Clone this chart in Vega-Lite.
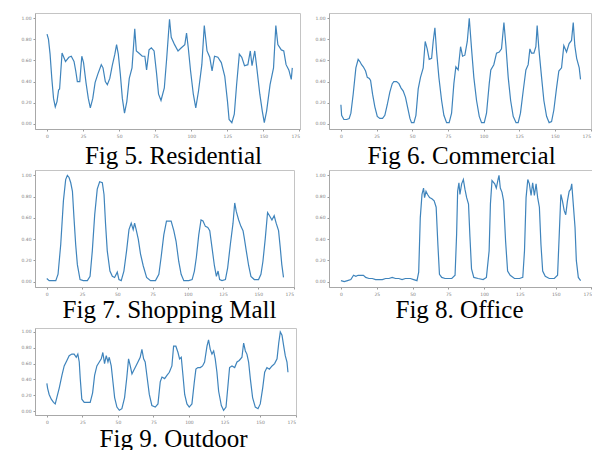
{
  "$schema": "https://vega.github.io/schema/vega-lite/v6.json",
  "autosize": {"type": "pad"},
  "padding": {"left": 20, "top": 12, "right": 0, "bottom": 0},
  "background": "white",
  "config": {
    "view": {"stroke": "#c4c4c4", "strokeWidth": 1},
    "axis": {"grid": false, "labelFontSize": 4.5, "labelColor": "#808080", "labelFont": "DejaVu Sans", "tickColor": "#9a9a9a", "tickSize": 2, "labelPadding": 2, "domainColor": "#a8a8a8", "titleFont": "Liberation Serif", "titleFontSize": 25, "titleFontWeight": "normal", "titleColor": "#000000", "titleAlign": "center", "titleBaseline": "alphabetic"},
    "line": {"color": "#3f84bc", "strokeWidth": 1.2}
  },
  "datasets": {
    "res": [
      {"t":0,"v":0.85},{"t":1,"v":0.80},{"t":2.1,"v":0.66},{"t":3.3,"v":0.43},{"t":4.5,"v":0.24},{"t":5.7,"v":0.16},{"t":6.9,"v":0.21},{"t":8.0,"v":0.32},{"t":8.7,"v":0.33},{"t":10.4,"v":0.67},{"t":11.6,"v":0.63},{"t":12.8,"v":0.59},{"t":15.1,"v":0.63},{"t":16.8,"v":0.64},{"t":18.7,"v":0.59},{"t":19.9,"v":0.50},{"t":21.0,"v":0.40},{"t":22.7,"v":0.40},{"t":24.1,"v":0.64},{"t":25.3,"v":0.58},{"t":27.0,"v":0.39},{"t":28.6,"v":0.24},{"t":30.0,"v":0.15},{"t":31.7,"v":0.24},{"t":33.3,"v":0.39},{"t":35.2,"v":0.47},{"t":37.6,"v":0.56},{"t":38.8,"v":0.53},{"t":40.4,"v":0.40},{"t":41.8,"v":0.37},{"t":43.5,"v":0.43},{"t":45.2,"v":0.55},{"t":47.0,"v":0.66},{"t":48.2,"v":0.75},{"t":49.4,"v":0.66},{"t":50.8,"v":0.47},{"t":52.2,"v":0.24},{"t":53.7,"v":0.10},{"t":55.3,"v":0.21},{"t":57.0,"v":0.43},{"t":58.9,"v":0.53},{"t":60.8,"v":0.90},{"t":61.9,"v":0.69},{"t":63.6,"v":0.67},{"t":66.0,"v":0.64},{"t":67.8,"v":0.64},{"t":69.0,"v":0.51},{"t":70.7,"v":0.70},{"t":72.3,"v":0.72},{"t":74.2,"v":0.69},{"t":75.9,"v":0.48},{"t":77.3,"v":0.28},{"t":79.0,"v":0.22},{"t":81.3,"v":0.34},{"t":83.0,"v":0.63},{"t":84.9,"v":0.99},{"t":86.1,"v":0.82},{"t":88.4,"v":0.75},{"t":90.8,"v":0.69},{"t":93.1,"v":0.72},{"t":95.5,"v":0.75},{"t":96.7,"v":0.86},{"t":97.9,"v":0.72},{"t":99.5,"v":0.50},{"t":101.4,"v":0.28},{"t":103.1,"v":0.15},{"t":105.0,"v":0.31},{"t":107.3,"v":0.56},{"t":109.0,"v":0.93},{"t":110.9,"v":0.69},{"t":112.8,"v":0.63},{"t":114.4,"v":0.50},{"t":116.1,"v":0.64},{"t":118.4,"v":0.63},{"t":120.8,"v":0.58},{"t":123.2,"v":0.45},{"t":125.1,"v":0.21},{"t":126.2,"v":0.04},{"t":128.1,"v":0.01},{"t":129.8,"v":0.09},{"t":131.4,"v":0.37},{"t":133.3,"v":0.66},{"t":135.0,"v":0.63},{"t":136.9,"v":0.55},{"t":139.2,"v":0.56},{"t":140.9,"v":0.69},{"t":142.1,"v":0.55},{"t":144.0,"v":0.69},{"t":145.4,"v":0.53},{"t":147.5,"v":0.28},{"t":149.2,"v":0.12},{"t":150.6,"v":0.01},{"t":152.2,"v":0.12},{"t":154.6,"v":0.37},{"t":157.0,"v":0.53},{"t":158.6,"v":0.93},{"t":160.0,"v":0.75},{"t":162.4,"v":0.70},{"t":164.1,"v":0.69},{"t":165.7,"v":0.56},{"t":167.6,"v":0.51},{"t":169.3,"v":0.42},{"t":170.0,"v":0.53}
    ],
    "com": [
      {"t":0,"v":0.18},{"t":0.5,"v":0.08},{"t":2.1,"v":0.04},{"t":4.0,"v":0.04},{"t":5.8,"v":0.05},{"t":7.0,"v":0.10},{"t":8.6,"v":0.28},{"t":10.5,"v":0.53},{"t":12.1,"v":0.61},{"t":13.3,"v":0.59},{"t":14.5,"v":0.56},{"t":15.7,"v":0.54},{"t":17.3,"v":0.50},{"t":18.5,"v":0.44},{"t":19.9,"v":0.43},{"t":20.8,"v":0.41},{"t":22.2,"v":0.28},{"t":23.8,"v":0.16},{"t":25.5,"v":0.07},{"t":27.3,"v":0.05},{"t":29.2,"v":0.05},{"t":30.8,"v":0.08},{"t":32.5,"v":0.18},{"t":34.3,"v":0.30},{"t":36.0,"v":0.38},{"t":37.1,"v":0.40},{"t":39.0,"v":0.40},{"t":40.7,"v":0.38},{"t":42.1,"v":0.34},{"t":43.7,"v":0.31},{"t":45.3,"v":0.25},{"t":46.7,"v":0.16},{"t":48.4,"v":0.05},{"t":49.5,"v":0.01},{"t":51.2,"v":0.01},{"t":52.6,"v":0.08},{"t":54.2,"v":0.33},{"t":55.8,"v":0.44},{"t":57.7,"v":0.53},{"t":59.1,"v":0.78},{"t":60.5,"v":0.71},{"t":61.9,"v":0.61},{"t":63.6,"v":0.62},{"t":64.7,"v":0.78},{"t":65.9,"v":0.91},{"t":67.1,"v":0.68},{"t":68.7,"v":0.44},{"t":70.6,"v":0.22},{"t":72.2,"v":0.08},{"t":74.1,"v":0.01},{"t":75.9,"v":0.01},{"t":77.6,"v":0.10},{"t":79.2,"v":0.38},{"t":80.6,"v":0.54},{"t":82.2,"v":0.51},{"t":83.9,"v":0.73},{"t":85.3,"v":0.64},{"t":86.9,"v":0.65},{"t":88.6,"v":0.78},{"t":90.0,"v":1.0},{"t":91.6,"v":0.71},{"t":93.2,"v":0.44},{"t":95.1,"v":0.22},{"t":97.0,"v":0.07},{"t":98.6,"v":0.01},{"t":100.5,"v":0.01},{"t":102.1,"v":0.10},{"t":104.0,"v":0.38},{"t":105.1,"v":0.51},{"t":107.2,"v":0.56},{"t":109.1,"v":0.67},{"t":111.0,"v":0.68},{"t":112.6,"v":0.71},{"t":114.3,"v":0.96},{"t":115.7,"v":0.74},{"t":117.3,"v":0.44},{"t":119.0,"v":0.22},{"t":120.8,"v":0.07},{"t":122.8,"v":0.01},{"t":124.3,"v":0.01},{"t":125.9,"v":0.10},{"t":127.8,"v":0.31},{"t":129.7,"v":0.51},{"t":131.3,"v":0.56},{"t":132.5,"v":0.71},{"t":133.6,"v":0.67},{"t":135.3,"v":0.67},{"t":136.7,"v":0.73},{"t":137.6,"v":0.93},{"t":138.8,"v":0.71},{"t":140.7,"v":0.44},{"t":142.3,"v":0.22},{"t":144.2,"v":0.07},{"t":146.0,"v":0.01},{"t":147.7,"v":0.02},{"t":149.3,"v":0.13},{"t":151.2,"v":0.34},{"t":152.8,"v":0.50},{"t":154.7,"v":0.53},{"t":156.3,"v":0.74},{"t":158.2,"v":0.68},{"t":160.0,"v":0.76},{"t":161.7,"v":0.79},{"t":162.9,"v":0.96},{"t":164.0,"v":0.74},{"t":165.3,"v":0.62},{"t":167.1,"v":0.53},{"t":168.0,"v":0.42}
    ],
    "mall": [
      {"t":0,"v":0.03},{"t":1.7,"v":0.01},{"t":4.0,"v":0.01},{"t":6.4,"v":0.01},{"t":8.0,"v":0.07},{"t":9.9,"v":0.35},{"t":11.8,"v":0.76},{"t":13.4,"v":0.96},{"t":14.6,"v":1.0},{"t":15.8,"v":0.98},{"t":17.0,"v":0.93},{"t":18.2,"v":0.85},{"t":19.3,"v":0.60},{"t":20.5,"v":0.35},{"t":21.7,"v":0.16},{"t":23.6,"v":0.02},{"t":25.9,"v":0.01},{"t":28.8,"v":0.01},{"t":30.7,"v":0.05},{"t":32.3,"v":0.29},{"t":34.0,"v":0.63},{"t":35.8,"v":0.87},{"t":37.5,"v":0.94},{"t":39.4,"v":0.93},{"t":40.6,"v":0.82},{"t":41.7,"v":0.54},{"t":42.9,"v":0.29},{"t":44.8,"v":0.10},{"t":46.5,"v":0.05},{"t":48.1,"v":0.04},{"t":50.0,"v":0.09},{"t":51.2,"v":0.02},{"t":52.8,"v":0.01},{"t":54.7,"v":0.10},{"t":56.6,"v":0.29},{"t":58.3,"v":0.49},{"t":59.9,"v":0.55},{"t":61.3,"v":0.49},{"t":62.3,"v":0.55},{"t":63.4,"v":0.49},{"t":64.9,"v":0.40},{"t":66.5,"v":0.26},{"t":68.4,"v":0.15},{"t":70.8,"v":0.04},{"t":73.6,"v":0.01},{"t":77.1,"v":0.01},{"t":79.5,"v":0.07},{"t":81.1,"v":0.23},{"t":83.0,"v":0.44},{"t":84.9,"v":0.57},{"t":86.6,"v":0.57},{"t":88.2,"v":0.57},{"t":90.1,"v":0.48},{"t":91.7,"v":0.38},{"t":93.6,"v":0.19},{"t":95.3,"v":0.07},{"t":97.2,"v":0.01},{"t":100.7,"v":0.01},{"t":103.1,"v":0.02},{"t":104.7,"v":0.10},{"t":106.1,"v":0.23},{"t":107.8,"v":0.44},{"t":109.4,"v":0.58},{"t":110.8,"v":0.57},{"t":112.5,"v":0.52},{"t":114.2,"v":0.51},{"t":115.6,"v":0.48},{"t":117.2,"v":0.32},{"t":118.9,"v":0.15},{"t":120.3,"v":0.05},{"t":121.5,"v":0.10},{"t":122.6,"v":0.02},{"t":124.3,"v":0.01},{"t":126.7,"v":0.02},{"t":128.3,"v":0.13},{"t":130.2,"v":0.35},{"t":132.1,"v":0.55},{"t":133.3,"v":0.74},{"t":134.4,"v":0.66},{"t":136.1,"v":0.58},{"t":137.7,"v":0.52},{"t":139.2,"v":0.48},{"t":140.1,"v":0.41},{"t":141.5,"v":0.29},{"t":143.2,"v":0.15},{"t":144.8,"v":0.05},{"t":147.2,"v":0.02},{"t":150.2,"v":0.02},{"t":151.9,"v":0.07},{"t":153.3,"v":0.19},{"t":155.0,"v":0.41},{"t":156.6,"v":0.65},{"t":158.0,"v":0.62},{"t":159.7,"v":0.58},{"t":161.3,"v":0.62},{"t":162.7,"v":0.55},{"t":164.4,"v":0.48},{"t":165.6,"v":0.32},{"t":166.7,"v":0.16},{"t":167.9,"v":0.04}
    ],
    "office": [
      {"t":0,"v":0.01},{"t":2.3,"v":0.0},{"t":4.6,"v":0.01},{"t":6.9,"v":0.02},{"t":8.8,"v":0.06},{"t":10.4,"v":0.05},{"t":12.0,"v":0.06},{"t":13.9,"v":0.06},{"t":15.7,"v":0.06},{"t":17.3,"v":0.04},{"t":19.6,"v":0.03},{"t":21.9,"v":0.03},{"t":24.2,"v":0.02},{"t":26.6,"v":0.02},{"t":28.9,"v":0.02},{"t":31.2,"v":0.03},{"t":33.5,"v":0.03},{"t":35.8,"v":0.04},{"t":38.1,"v":0.03},{"t":40.4,"v":0.03},{"t":42.7,"v":0.02},{"t":45.0,"v":0.03},{"t":48.5,"v":0.03},{"t":50.8,"v":0.02},{"t":53.1,"v":0.01},{"t":54.3,"v":0.09},{"t":55.4,"v":0.60},{"t":56.6,"v":0.82},{"t":57.7,"v":0.88},{"t":58.4,"v":0.79},{"t":59.4,"v":0.85},{"t":60.5,"v":0.82},{"t":61.9,"v":0.79},{"t":63.5,"v":0.78},{"t":65.1,"v":0.76},{"t":66.5,"v":0.70},{"t":67.7,"v":0.35},{"t":68.8,"v":0.07},{"t":70.4,"v":0.04},{"t":72.7,"v":0.03},{"t":75.1,"v":0.03},{"t":77.4,"v":0.03},{"t":79.7,"v":0.06},{"t":80.8,"v":0.45},{"t":81.5,"v":0.85},{"t":82.4,"v":0.93},{"t":83.1,"v":0.82},{"t":84.3,"v":0.92},{"t":85.5,"v":0.96},{"t":86.6,"v":0.87},{"t":87.8,"v":0.79},{"t":89.1,"v":0.73},{"t":90.1,"v":0.42},{"t":91.2,"v":0.12},{"t":92.8,"v":0.04},{"t":95.8,"v":0.03},{"t":99.3,"v":0.02},{"t":101.6,"v":0.04},{"t":103.5,"v":0.29},{"t":104.4,"v":0.73},{"t":105.5,"v":0.95},{"t":107.4,"v":0.92},{"t":108.5,"v":0.88},{"t":109.7,"v":0.96},{"t":110.4,"v":1.0},{"t":111.3,"v":0.88},{"t":112.5,"v":0.84},{"t":113.6,"v":0.76},{"t":115.0,"v":0.38},{"t":116.4,"v":0.10},{"t":118.2,"v":0.06},{"t":121.2,"v":0.03},{"t":124.7,"v":0.03},{"t":127.0,"v":0.04},{"t":128.2,"v":0.29},{"t":129.3,"v":0.79},{"t":130.5,"v":0.96},{"t":131.6,"v":0.92},{"t":132.8,"v":0.81},{"t":133.9,"v":0.93},{"t":135.1,"v":0.81},{"t":136.3,"v":0.92},{"t":137.4,"v":0.79},{"t":138.6,"v":0.70},{"t":139.7,"v":0.35},{"t":140.9,"v":0.10},{"t":142.7,"v":0.05},{"t":145.5,"v":0.03},{"t":149.0,"v":0.03},{"t":151.3,"v":0.06},{"t":152.4,"v":0.42},{"t":153.6,"v":0.82},{"t":154.7,"v":0.76},{"t":155.9,"v":0.67},{"t":157.0,"v":0.63},{"t":158.2,"v":0.76},{"t":159.4,"v":0.85},{"t":160.5,"v":0.87},{"t":161.2,"v":0.92},{"t":162.1,"v":0.76},{"t":163.5,"v":0.51},{"t":164.4,"v":0.20},{"t":165.8,"v":0.04},{"t":167.4,"v":0.01}
    ],
    "out": [
      {"t":0,"v":0.35},{"t":0.5,"v":0.29},{"t":1.6,"v":0.21},{"t":3.1,"v":0.15},{"t":4.7,"v":0.11},{"t":5.9,"v":0.09},{"t":7.0,"v":0.17},{"t":8.7,"v":0.29},{"t":10.6,"v":0.45},{"t":12.2,"v":0.57},{"t":14.1,"v":0.64},{"t":15.7,"v":0.70},{"t":17.6,"v":0.72},{"t":19.2,"v":0.72},{"t":20.7,"v":0.68},{"t":21.8,"v":0.72},{"t":22.8,"v":0.62},{"t":23.5,"v":0.41},{"t":24.6,"v":0.15},{"t":26.3,"v":0.11},{"t":28.2,"v":0.11},{"t":30.5,"v":0.11},{"t":32.2,"v":0.23},{"t":33.6,"v":0.45},{"t":35.2,"v":0.57},{"t":36.9,"v":0.62},{"t":38.3,"v":0.66},{"t":39.4,"v":0.74},{"t":40.6,"v":0.60},{"t":41.8,"v":0.70},{"t":43.0,"v":0.62},{"t":43.9,"v":0.68},{"t":45.3,"v":0.57},{"t":46.5,"v":0.37},{"t":47.7,"v":0.17},{"t":49.3,"v":0.05},{"t":51.0,"v":0.01},{"t":52.8,"v":0.03},{"t":54.7,"v":0.17},{"t":56.3,"v":0.43},{"t":57.5,"v":0.66},{"t":58.7,"v":0.57},{"t":59.9,"v":0.47},{"t":61.0,"v":0.51},{"t":62.7,"v":0.57},{"t":64.1,"v":0.62},{"t":65.7,"v":0.68},{"t":66.9,"v":0.78},{"t":68.1,"v":0.66},{"t":69.2,"v":0.62},{"t":70.4,"v":0.45},{"t":72.1,"v":0.21},{"t":73.9,"v":0.07},{"t":76.3,"v":0.05},{"t":78.2,"v":0.09},{"t":79.8,"v":0.37},{"t":81.0,"v":0.43},{"t":82.9,"v":0.41},{"t":84.5,"v":0.45},{"t":86.2,"v":0.49},{"t":88.0,"v":0.57},{"t":89.2,"v":0.82},{"t":90.8,"v":0.82},{"t":92.3,"v":0.74},{"t":93.4,"v":0.66},{"t":94.6,"v":0.68},{"t":95.8,"v":0.45},{"t":97.0,"v":0.21},{"t":98.6,"v":0.09},{"t":100.2,"v":0.05},{"t":102.1,"v":0.09},{"t":103.8,"v":0.37},{"t":104.9,"v":0.53},{"t":106.3,"v":0.55},{"t":108.0,"v":0.55},{"t":109.6,"v":0.57},{"t":111.0,"v":0.62},{"t":112.7,"v":0.82},{"t":113.8,"v":0.90},{"t":115.0,"v":0.78},{"t":116.2,"v":0.72},{"t":117.4,"v":0.76},{"t":118.5,"v":0.66},{"t":119.7,"v":0.49},{"t":120.9,"v":0.25},{"t":122.8,"v":0.07},{"t":124.4,"v":0.01},{"t":126.1,"v":0.05},{"t":127.5,"v":0.33},{"t":128.6,"v":0.55},{"t":130.3,"v":0.57},{"t":132.2,"v":0.55},{"t":133.8,"v":0.62},{"t":135.4,"v":0.64},{"t":137.3,"v":0.68},{"t":138.5,"v":0.86},{"t":139.7,"v":0.76},{"t":140.8,"v":0.72},{"t":142.0,"v":0.62},{"t":143.2,"v":0.41},{"t":144.8,"v":0.17},{"t":146.7,"v":0.05},{"t":148.6,"v":0.03},{"t":150.2,"v":0.09},{"t":151.9,"v":0.29},{"t":153.3,"v":0.49},{"t":154.9,"v":0.55},{"t":156.6,"v":0.53},{"t":158.5,"v":0.57},{"t":160.3,"v":0.60},{"t":162.0,"v":0.66},{"t":163.2,"v":0.86},{"t":164.3,"v":1.0},{"t":165.5,"v":0.96},{"t":166.7,"v":0.82},{"t":167.8,"v":0.70},{"t":169.0,"v":0.62},{"t":169.7,"v":0.49}
    ]
  },
  "bounds": "flush",
  "align": "none",
  "columns": 2,
  "spacing": {"row": 41, "column": 29},
  "concat": [
    {
      "width": 265, "height": 116,
      "data": {"name": "res"},
      "mark": {"type": "line"},
      "encoding": {
        "x": {"field": "t", "type": "quantitative", "scale": {"domain": [-8.35, 175.35], "nice": false, "zero": false}, "axis": {"values": [0, 25, 50, 75, 100, 125, 150, 175], "format": "d", "title": "Fig 5. Residential", "titleX": 138, "titleY": 34}},
        "y": {"field": "v", "type": "quantitative", "scale": {"domain": [-0.05, 1.05], "nice": false, "zero": false}, "axis": {"values": [0, 0.2, 0.4, 0.6, 0.8, 1], "format": ".2f", "title": null}}
      }
    },
    {
      "width": 262, "height": 116,
      "data": {"name": "com"},
      "mark": {"type": "line"},
      "encoding": {
        "x": {"field": "t", "type": "quantitative", "scale": {"domain": [-8.35, 175.35], "nice": false, "zero": false}, "axis": {"values": [0, 25, 50, 75, 100, 125, 150, 175], "format": "d", "title": "Fig 6. Commercial", "titleX": 132, "titleY": 34}},
        "y": {"field": "v", "type": "quantitative", "scale": {"domain": [-0.05, 1.05], "nice": false, "zero": false}, "axis": {"values": [0, 0.2, 0.4, 0.6, 0.8, 1], "format": ".2f", "title": null}}
      }
    },
    {
      "width": 259, "height": 117,
      "data": {"name": "mall"},
      "mark": {"type": "line"},
      "encoding": {
        "x": {"field": "t", "type": "quantitative", "scale": {"domain": [-8.35, 175.35], "nice": false, "zero": false}, "axis": {"values": [0, 25, 50, 75, 100, 125, 150, 175], "format": "d", "title": "Fig 7. Shopping Mall", "titleX": 134, "titleY": 30}},
        "y": {"field": "v", "type": "quantitative", "scale": {"domain": [-0.05, 1.05], "nice": false, "zero": false}, "axis": {"values": [0, 0.2, 0.4, 0.6, 0.8, 1], "format": ".2f", "title": null}}
      }
    },
    {
      "width": 263, "height": 117,
      "data": {"name": "office"},
      "mark": {"type": "line"},
      "encoding": {
        "x": {"field": "t", "type": "quantitative", "scale": {"domain": [-8.35, 175.35], "nice": false, "zero": false}, "axis": {"values": [0, 25, 50, 75, 100, 125, 150, 175], "format": "d", "title": "Fig 8. Office", "titleX": 130, "titleY": 30}},
        "y": {"field": "v", "type": "quantitative", "scale": {"domain": [-0.05, 1.05], "nice": false, "zero": false}, "axis": {"values": [0, 0.2, 0.4, 0.6, 0.8, 1], "format": ".2f", "title": null}}
      }
    },
    {
      "width": 261, "height": 87,
      "data": {"name": "out"},
      "mark": {"type": "line"},
      "encoding": {
        "x": {"field": "t", "type": "quantitative", "scale": {"domain": [-8.35, 175.35], "nice": false, "zero": false}, "axis": {"values": [0, 25, 50, 75, 100, 125, 150, 175], "format": "d", "title": "Fig 9. Outdoor", "titleX": 138, "titleY": 31}},
        "y": {"field": "v", "type": "quantitative", "scale": {"domain": [-0.05, 1.05], "nice": false, "zero": false}, "axis": {"values": [0, 0.2, 0.4, 0.6, 0.8, 1], "format": ".2f", "title": null}}
      }
    }
  ]
}
